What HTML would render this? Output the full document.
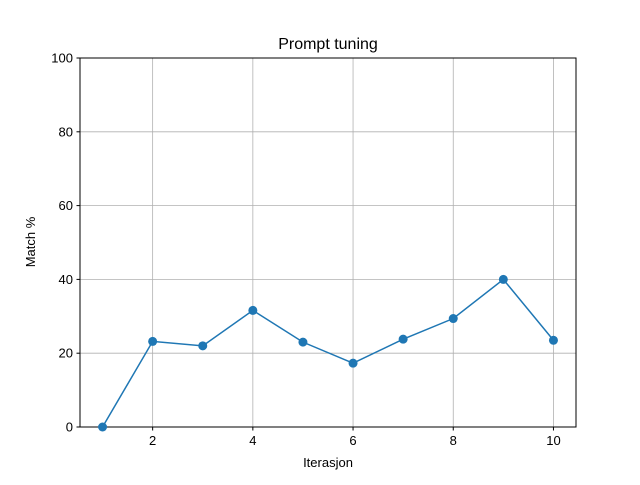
<!DOCTYPE html>
<html><head><meta charset="utf-8"><style>
body{margin:0;background:#fff;}
svg{font-family:"Liberation Sans","DejaVu Sans",sans-serif;}
</style></head><body>
<svg id="chart" width="640" height="480">
<rect width="640" height="480" fill="#fff"/>
<text x="328" y="49" text-anchor="middle" font-size="16">Prompt tuning</text>
<g id="grid"></g>
<g id="ticks"></g>
<rect x="80" y="58" width="496" height="369" fill="none" stroke="#000" stroke-width="1"/>
<g id="series"></g>
<text x="328" y="467" text-anchor="middle" font-size="13">Iterasjon</text>
<text transform="translate(35,242) rotate(-90)" text-anchor="middle" font-size="13">Match %</text>
</svg>
<script>
const iterations=[1,2,3,4,5,6,7,8,9,10];
const matchValues=[0,23.2,22,31.6,23,17.3,23.8,29.4,40,23.5];
const xTicks=[2,4,6,8,10];
const yTicks=[0,20,40,60,80,100];
const NS="http://www.w3.org/2000/svg";
const X0=80,X1=576,Y0=427,Y1=58,xmin=0.55,xmax=10.45,ymin=0,ymax=100;
const xs=v=>X0+(v-xmin)/(xmax-xmin)*(X1-X0);
const ys=v=>Y0-(v-ymin)/(ymax-ymin)*(Y0-Y1);
function mk(t,a,p){const e=document.createElementNS(NS,t);for(const k in a)e.setAttribute(k,a[k]);p.appendChild(e);return e;}
const g=document.getElementById('grid'),tk=document.getElementById('ticks'),s=document.getElementById('series');
xTicks.forEach(v=>{const x=xs(v);
const l=mk('line',{x1:x,x2:x,y1:Y1,y2:Y0,stroke:'#b0b0b0','stroke-width':0.8},g);


mk('line',{x1:x,x2:x,y1:Y0,y2:Y0+3.5,stroke:'#000'},tk);
const t=mk('text',{x:x,y:Y0+18,'text-anchor':'middle','font-size':13},tk);t.textContent=v;

});
yTicks.forEach(v=>{const y=ys(v);
const l=mk('line',{x1:X0,x2:X1,y1:y,y2:y,stroke:'#b0b0b0','stroke-width':0.8},g);


mk('line',{x1:X0-3.5,x2:X0,y1:y,y2:y,stroke:'#000'},tk);
const t=mk('text',{x:X0-7,y:y+4.5,'text-anchor':'end','font-size':13},tk);t.textContent=v;

});
const pts=iterations.map((v,i)=>xs(v)+','+ys(matchValues[i])).join(' ');
const pl=mk('polyline',{points:pts,fill:'none',stroke:'#1f77b4','stroke-width':1.5},s);


iterations.forEach((v,i)=>{const c=mk('circle',{cx:xs(v),cy:ys(matchValues[i]),r:4.5,fill:'#1f77b4'},s);

});
</script>
</body></html>
